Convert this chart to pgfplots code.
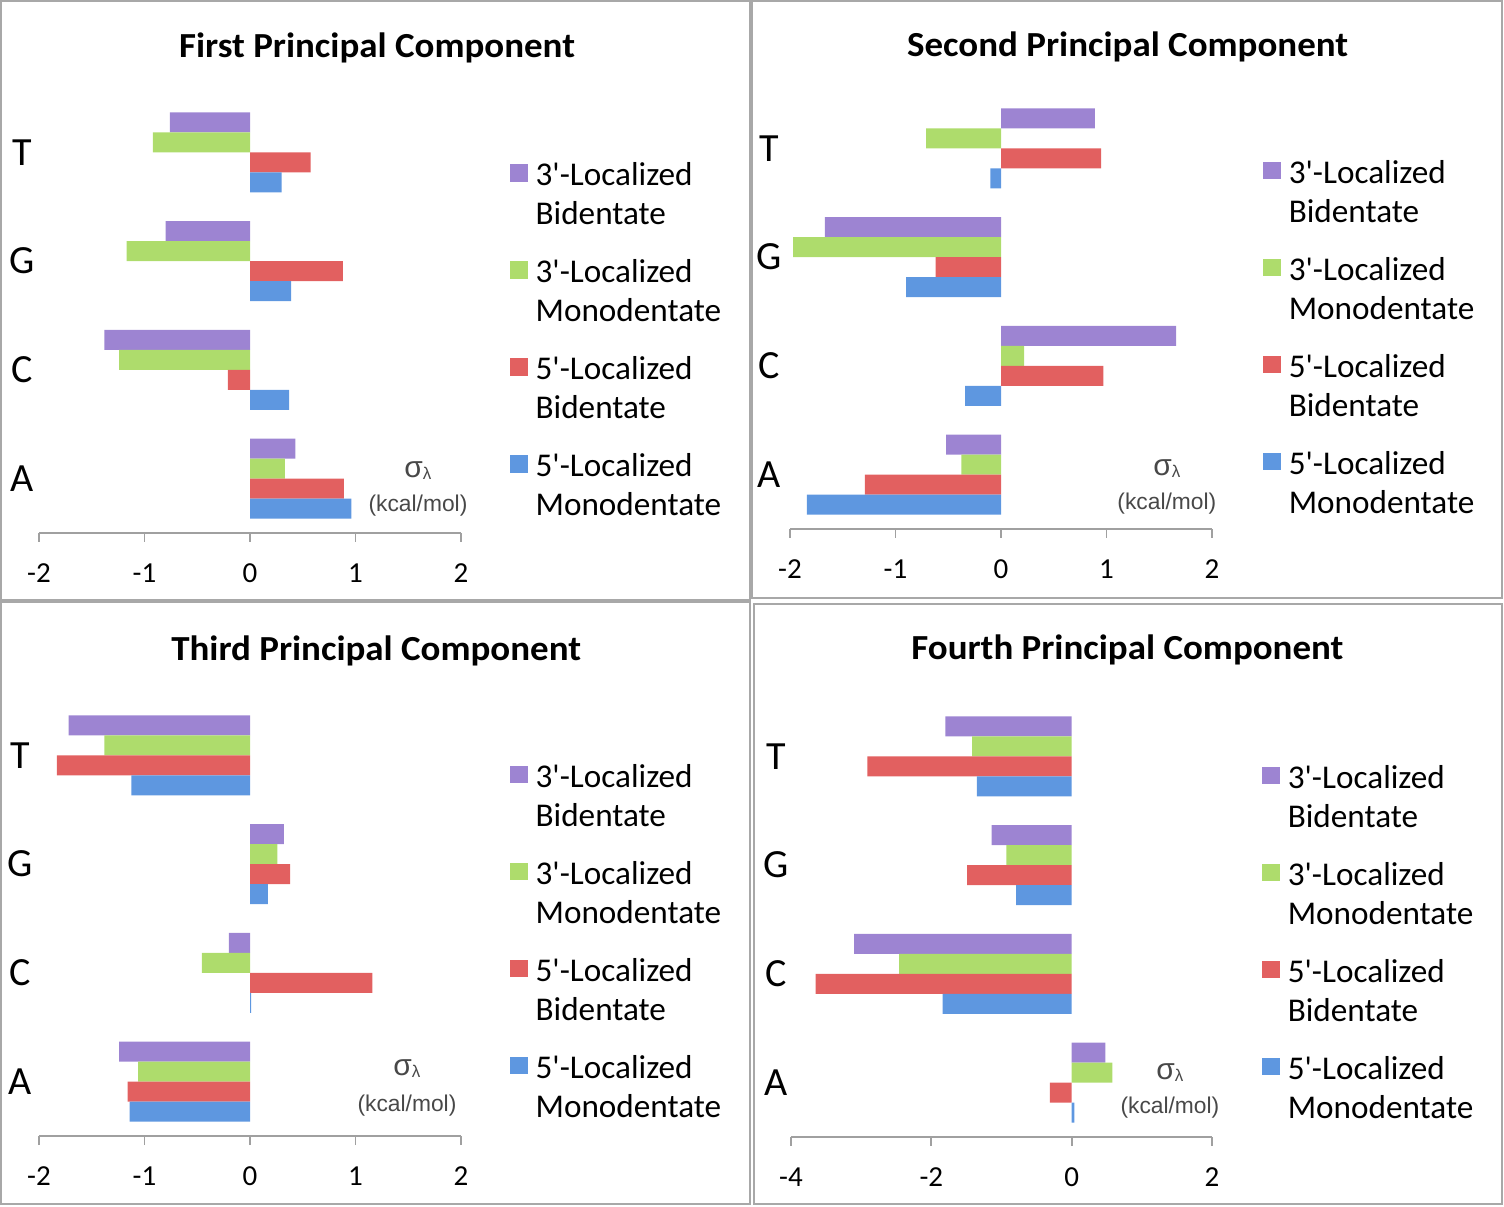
\documentclass[border=0pt]{standalone}
\usepackage{pgfplots}
\pgfplotsset{compat=1.18}
\usepackage{fontspec}
\setmainfont{Carlito}
\newfontfamily\titlefont{Carlito}[FakeStretch=1.05]
\newfontfamily\arialfont{Liberation Sans}

\definecolor{purC}{HTML}{9D84D2}
\definecolor{grnC}{HTML}{AEDC6C}
\definecolor{redC}{HTML}{E26060}
\definecolor{bluC}{HTML}{5E97E0}
\definecolor{axgray}{HTML}{A0A0A0}
\definecolor{framegray}{HTML}{A8A8A8}
\definecolor{unitgray}{HTML}{484848}

\pgfplotsset{
  panel/.style={
    scale only axis, width=211pt, height=217.5pt,
    ymin=0.5, ymax=4.5, xbar, bar width=0.184,
    axis x line*=bottom, axis y line*=left,
    y axis line style={draw=none},
    x axis line style={draw=axgray, line width=0.9pt},
    tick align=outside, major tick length=4.5pt,
    xtick style={draw=axgray, line width=0.9pt},
    ytick={1,2,3,4}, yticklabels={A,C,G,T},
    ytick style={draw=none},
    yticklabel style={font=\fontsize{20}{24}\selectfont, anchor=center},
    xticklabel style={font=\fontsize{14.5}{17}\selectfont, yshift=-7.5pt},
    title style={font=\titlefont\bfseries\fontsize{17.6}{21}\selectfont, anchor=base, yshift=-6pt},
    legend cell align=left,
    legend style={draw=none, fill=none, inner sep=0pt, outer sep=0pt,
      row sep=0pt, column sep=4pt, anchor=north west,
      nodes={inner sep=0pt, minimum height=48.5pt, align=left, anchor=west,
        font=\fontsize{16.6}{19.5}\selectfont}},
    clip=false,
  },
  sq/.style={legend image code/.code={\path[##1] (0pt,6.6pt) rectangle (8.85pt,15.4pt);}},
  purp/.style={draw=none, fill=purC, bar shift=0.276, sq},
  gree/.style={draw=none, fill=grnC, bar shift=0.092, sq},
  redd/.style={draw=none, fill=redC, bar shift=-0.092, sq},
  blue/.style={draw=none, fill=bluC, bar shift=-0.276, sq},
}
\newcommand{\unitlabel}[3]{%
  \node[font=\arialfont\fontsize{15}{16}\selectfont, text=unitgray] at (rel axis cs:#1,#2) {σ\raisebox{-1pt}{\fontsize{8.5}{9}\selectfont λ}};
  \node[font=\arialfont\fontsize{11.4}{13}\selectfont, text=unitgray] at (rel axis cs:#1,#3) {(kcal/mol)};
}

\begin{document}
\begin{tikzpicture}
\useasboundingbox (0,0) rectangle (752pt,603pt);
% panel frames
\draw[framegray, line width=1pt] (0.5pt,303pt) rectangle (375pt,602.5pt);
\draw[framegray, line width=1pt] (376pt,304pt) rectangle (751pt,602.5pt);
\draw[framegray, line width=1pt] (0.5pt,1pt) rectangle (375pt,302pt);
\draw[framegray, line width=1pt] (377pt,1pt) rectangle (751pt,301pt);

% ---------- First ----------
\begin{axis}[panel, at={(19.5pt,336.5pt)}, anchor=south west,
  xmin=-2, xmax=2, xtick={-2,-1,0,1,2}, xticklabels={-2,-1,0,1,2},
  yticklabel style={xshift=-4pt},
  title={First Principal Component}, title style={at={(0.801,1.0926)}},
  legend style={at={(1.116,0.889)}}]
\addplot[purp] coordinates {(0.43,1) (-1.38,2) (-0.80,3) (-0.76,4)};
\addlegendentry{3\textquotesingle-Localized\\Bidentate}
\addplot[gree] coordinates {(0.33,1) (-1.24,2) (-1.17,3) (-0.92,4)};
\addlegendentry{3\textquotesingle-Localized\\Monodentate}
\addplot[redd] coordinates {(0.89,1) (-0.21,2) (0.88,3) (0.575,4)};
\addlegendentry{5\textquotesingle-Localized\\Bidentate}
\addplot[blue] coordinates {(0.96,1) (0.37,2) (0.39,3) (0.30,4)};
\addlegendentry{5\textquotesingle-Localized\\Monodentate}
\unitlabel{0.898}{0.1425}{0.062}
\end{axis}

% ---------- Second ----------
\begin{axis}[panel, at={(395pt,338.5pt)}, anchor=south west,
  xmin=-2, xmax=2, xtick={-2,-1,0,1,2}, xticklabels={-2,-1,0,1,2},
  yticklabel style={xshift=-6pt},
  title={Second Principal Component}, title style={at={(0.80,1.0857)}},
  legend style={at={(1.121,0.885)}}]
\addplot[purp] coordinates {(-0.52,1) (1.66,2) (-1.67,3) (0.89,4)};
\addlegendentry{3\textquotesingle-Localized\\Bidentate}
\addplot[gree] coordinates {(-0.375,1) (0.22,2) (-1.97,3) (-0.71,4)};
\addlegendentry{3\textquotesingle-Localized\\Monodentate}
\addplot[redd] coordinates {(-1.29,1) (0.97,2) (-0.62,3) (0.95,4)};
\addlegendentry{5\textquotesingle-Localized\\Bidentate}
\addplot[blue] coordinates {(-1.84,1) (-0.34,2) (-0.90,3) (-0.10,4)};
\addlegendentry{5\textquotesingle-Localized\\Monodentate}
\unitlabel{0.893}{0.138}{0.0575}
\end{axis}

% ---------- Third ----------
\begin{axis}[panel, at={(19.5pt,35pt)}, anchor=south west,
  xmin=-2, xmax=2, xtick={-2,-1,0,1,2}, xticklabels={-2,-1,0,1,2},
  yticklabel style={xshift=-5pt},
  title={Third Principal Component}, title style={at={(0.799,1.0926)}},
  legend style={at={(1.116,0.892)}}]
\addplot[purp] coordinates {(-1.24,1) (-0.20,2) (0.32,3) (-1.72,4)};
\addlegendentry{3\textquotesingle-Localized\\Bidentate}
\addplot[gree] coordinates {(-1.06,1) (-0.455,2) (0.26,3) (-1.38,4)};
\addlegendentry{3\textquotesingle-Localized\\Monodentate}
\addplot[redd] coordinates {(-1.16,1) (1.16,2) (0.38,3) (-1.83,4)};
\addlegendentry{5\textquotesingle-Localized\\Bidentate}
\addplot[blue] coordinates {(-1.14,1) (0.01,2) (0.17,3) (-1.125,4)};
\addlegendentry{5\textquotesingle-Localized\\Monodentate}
\unitlabel{0.872}{0.154}{0.071}
\end{axis}

% ---------- Fourth ----------
\begin{axis}[panel, at={(395.5pt,34.5pt)}, anchor=south west, width=210.5pt,
  xmin=-4, xmax=2, xtick={-4,-2,0,2}, xticklabels={-4,-2,0,2},
  yticklabel style={xshift=-3pt},
  title={Fourth Principal Component}, title style={at={(0.799,1.0972)}},
  legend style={at={(1.119,0.892)}}]
\addplot[purp] coordinates {(0.48,1) (-3.10,2) (-1.14,3) (-1.80,4)};
\addlegendentry{3\textquotesingle-Localized\\Bidentate}
\addplot[gree] coordinates {(0.58,1) (-2.46,2) (-0.93,3) (-1.42,4)};
\addlegendentry{3\textquotesingle-Localized\\Monodentate}
\addplot[redd] coordinates {(-0.31,1) (-3.65,2) (-1.49,3) (-2.91,4)};
\addlegendentry{5\textquotesingle-Localized\\Bidentate}
\addplot[blue] coordinates {(0.04,1) (-1.84,2) (-0.79,3) (-1.35,4)};
\addlegendentry{5\textquotesingle-Localized\\Monodentate}
\unitlabel{0.90}{0.147}{0.067}
\end{axis}
\end{tikzpicture}
\end{document}
